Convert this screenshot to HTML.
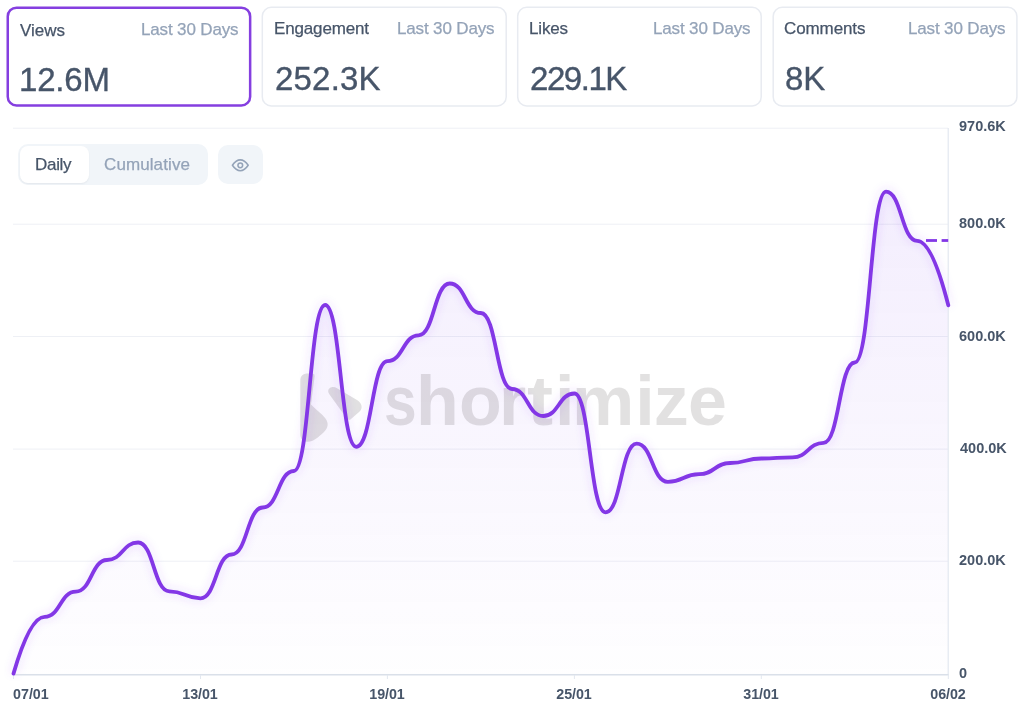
<!DOCTYPE html>
<html><head><meta charset="utf-8"><style>
*{margin:0;padding:0;box-sizing:border-box}
html,body{width:1024px;height:715px;overflow:hidden;background:#fff;font-family:"Liberation Sans",sans-serif;}
.card{position:absolute;top:6.6px;height:100px;border:1px solid #e5e8ef;border-radius:10px;background:#fff}
.card.active{border:2px solid #8033e6;top:6.5px}
.t{position:absolute;white-space:nowrap;will-change:transform}
.toggle{position:absolute;left:18px;top:143.6px;width:190px;height:41.7px;background:#f1f5f9;border-radius:10px}
.daily{position:absolute;left:1.8px;top:2px;width:69.3px;height:37.2px;background:#fff;border-radius:8px;box-shadow:0 1px 2px rgba(15,23,42,.06)}
.eye{position:absolute;left:218.4px;top:144.9px;width:44.7px;height:39.2px;background:#f1f5f9;border-radius:10px}
</style></head><body>

<svg width="1024" height="120" style="position:absolute;left:0;top:0"><rect x="7.75" y="7.65" width="242.4" height="97.8" rx="8.8" fill="#fff" stroke="#853fe0" stroke-width="2.5"/><rect x="262.30" y="7.3" width="243.90" height="98.6" rx="9" fill="#fff" stroke="#e8ebf1" stroke-width="1.5"/><rect x="517.70" y="7.3" width="243.50" height="98.6" rx="9" fill="#fff" stroke="#e8ebf1" stroke-width="1.5"/><rect x="773.20" y="7.3" width="243.70" height="98.6" rx="9" fill="#fff" stroke="#e8ebf1" stroke-width="1.5"/></svg>
<div class="t" id="c1l" style="font-size:17.00px;font-weight:400;color:#475569;line-height:17.00px;letter-spacing:0.00px;top:21.81px;-webkit-text-stroke:0.25px #475569;left:20.40px">Views</div>
<div class="t" id="c1p" style="font-size:17.00px;font-weight:400;color:#94a3b8;line-height:17.00px;letter-spacing:-0.15px;top:21.41px;-webkit-text-stroke:0.25px #94a3b8;right:785.80px">Last 30 Days</div>
<div class="t" id="c1v" style="font-size:33.00px;font-weight:400;color:#475569;line-height:33.00px;letter-spacing:-0.20px;top:62.77px;-webkit-text-stroke:0.35px #475569;left:19.20px">12.6M</div>
<div class="t" id="c2l" style="font-size:17.00px;font-weight:400;color:#475569;line-height:17.00px;letter-spacing:-0.15px;top:19.61px;-webkit-text-stroke:0.25px #475569;left:274.00px">Engagement</div>
<div class="t" id="c2p" style="font-size:17.00px;font-weight:400;color:#94a3b8;line-height:17.00px;letter-spacing:-0.15px;top:19.61px;-webkit-text-stroke:0.25px #94a3b8;right:529.40px">Last 30 Days</div>
<div class="t" id="c2v" style="font-size:33.00px;font-weight:400;color:#475569;line-height:33.00px;letter-spacing:0.20px;top:61.97px;-webkit-text-stroke:0.35px #475569;left:274.80px">252.3K</div>
<div class="t" id="c3l" style="font-size:17.00px;font-weight:400;color:#475569;line-height:17.00px;letter-spacing:-0.15px;top:19.61px;-webkit-text-stroke:0.25px #475569;left:529.40px">Likes</div>
<div class="t" id="c3p" style="font-size:17.00px;font-weight:400;color:#94a3b8;line-height:17.00px;letter-spacing:-0.15px;top:19.61px;-webkit-text-stroke:0.25px #94a3b8;right:274.00px">Last 30 Days</div>
<div class="t" id="c3v" style="font-size:33.00px;font-weight:400;color:#475569;line-height:33.00px;letter-spacing:-1.45px;top:61.67px;-webkit-text-stroke:0.35px #475569;left:530.20px">229.1K</div>
<div class="t" id="c4l" style="font-size:17.00px;font-weight:400;color:#475569;line-height:17.00px;letter-spacing:-0.10px;top:20.01px;-webkit-text-stroke:0.25px #475569;left:784.20px">Comments</div>
<div class="t" id="c4p" style="font-size:17.00px;font-weight:400;color:#94a3b8;line-height:17.00px;letter-spacing:-0.15px;top:19.61px;-webkit-text-stroke:0.25px #94a3b8;right:18.60px">Last 30 Days</div>
<div class="t" id="c4v" style="font-size:33.00px;font-weight:400;color:#475569;line-height:33.00px;letter-spacing:0.00px;top:61.67px;-webkit-text-stroke:0.35px #475569;left:785.00px">8K</div>
<svg width="1024" height="715" style="position:absolute;left:0;top:0">
<defs>
<linearGradient id="fg" x1="0" y1="0" x2="0" y2="1" gradientUnits="objectBoundingBox">
<stop offset="0" stop-color="#7c3aed" stop-opacity="0.09"/>
<stop offset="1" stop-color="#7c3aed" stop-opacity="0.005"/>
</linearGradient>
<filter id="glow" x="-10%" y="-10%" width="120%" height="120%"><feGaussianBlur stdDeviation="4"/></filter>
</defs>
<line x1="13" y1="128.2" x2="948" y2="128.2" stroke="#eef0f5" stroke-width="1"/>
<line x1="13" y1="224.2" x2="948" y2="224.2" stroke="#eef0f5" stroke-width="1"/>
<line x1="13" y1="336.5" x2="948" y2="336.5" stroke="#eef0f5" stroke-width="1"/>
<line x1="13" y1="449.1" x2="948" y2="449.1" stroke="#eef0f5" stroke-width="1"/>
<line x1="13" y1="561.2" x2="948" y2="561.2" stroke="#eef0f5" stroke-width="1"/>
<path d="M13.50,673.60C23.89,637.63 34.27,616.80 44.66,616.80C60.24,616.80 60.24,591.60 75.82,591.60C91.40,591.60 91.40,560.00 106.98,560.00C122.56,560.00 122.56,542.50 138.14,542.50C153.72,542.50 153.72,591.30 169.30,591.30C184.88,591.30 184.88,598.30 200.46,598.30C216.04,598.30 216.04,554.50 231.62,554.50C247.20,554.50 247.20,507.50 262.78,507.50C278.36,507.50 278.36,471.00 293.94,471.00C309.52,471.00 309.52,305.00 325.10,305.00C340.68,305.00 340.68,446.80 356.26,446.80C371.84,446.80 371.84,361.20 387.42,361.20C403.00,361.20 403.00,335.30 418.58,335.30C434.16,335.30 434.16,283.50 449.74,283.50C465.32,283.50 465.32,313.00 480.90,313.00C496.48,313.00 496.48,389.00 512.06,389.00C527.64,389.00 527.64,416.00 543.22,416.00C558.80,416.00 558.80,393.50 574.38,393.50C589.96,393.50 589.96,512.30 605.54,512.30C621.12,512.30 621.12,443.60 636.70,443.60C652.28,443.60 652.28,481.80 667.86,481.80C683.44,481.80 683.44,474.20 699.02,474.20C714.60,474.20 714.60,463.00 730.18,463.00C745.76,463.00 745.76,458.50 761.34,458.50C776.92,458.50 776.92,457.30 792.50,457.30C808.08,457.30 808.08,442.80 823.66,442.80C839.24,442.80 839.24,362.50 854.82,362.50C870.40,362.50 870.40,191.60 885.98,191.60C901.56,191.60 901.56,240.80 917.14,240.80C927.53,240.80 937.91,264.45 948.30,305.30L948.30,673.60L13.50,673.60Z" fill="url(#fg)"/>
</svg>
<svg width="1024" height="715" style="position:absolute;left:0;top:0"><g opacity="0.13" fill="#1e1419">
<path d="M300.3,381 C300.3,375.5 303,373.6 308,373.6 L313,373.8 Q315,374 314.6,376.5 L311,404.5 C316,409.5 322,414 325.5,418.5 C328.8,423 328.5,428 323.5,432.5 C318.5,437 313.5,441.8 308,441.8 C302.5,441.8 300.3,438.5 300.3,434 Z"/>
<path d="M329.5,394.5 C327,391.5 328,387.5 332.5,387 C334,386.8 335.5,387.3 337,388.2 L357,400 C362.5,403.2 363.2,409 358.5,412.5 L351,419 C349.5,420.3 348,420 347,418.8 Z"/>
</g></svg>
<div class="t" style="left:384px;top:360.5px;font-size:70px;font-weight:bold;color:rgba(30,20,25,0.13);line-height:80px;letter-spacing:-0.8px"><span style="display:inline-block;transform:scaleX(0.84);transform-origin:0 0">s</span><span style="position:relative;left:-6.2px">h</span><span style="position:relative;left:-5.2px">o</span><span style="position:relative;left:-7px">r</span><span style="display:inline-block;position:relative;left:-5.4px;transform:scaleX(1.12);transform-origin:0 0">t</span>i<span style="position:relative;left:-1.7px">m</span>ize</div>
<svg width="1024" height="715" style="position:absolute;left:0;top:0">
<path d="M13.50,673.60C23.89,637.63 34.27,616.80 44.66,616.80C60.24,616.80 60.24,591.60 75.82,591.60C91.40,591.60 91.40,560.00 106.98,560.00C122.56,560.00 122.56,542.50 138.14,542.50C153.72,542.50 153.72,591.30 169.30,591.30C184.88,591.30 184.88,598.30 200.46,598.30C216.04,598.30 216.04,554.50 231.62,554.50C247.20,554.50 247.20,507.50 262.78,507.50C278.36,507.50 278.36,471.00 293.94,471.00C309.52,471.00 309.52,305.00 325.10,305.00C340.68,305.00 340.68,446.80 356.26,446.80C371.84,446.80 371.84,361.20 387.42,361.20C403.00,361.20 403.00,335.30 418.58,335.30C434.16,335.30 434.16,283.50 449.74,283.50C465.32,283.50 465.32,313.00 480.90,313.00C496.48,313.00 496.48,389.00 512.06,389.00C527.64,389.00 527.64,416.00 543.22,416.00C558.80,416.00 558.80,393.50 574.38,393.50C589.96,393.50 589.96,512.30 605.54,512.30C621.12,512.30 621.12,443.60 636.70,443.60C652.28,443.60 652.28,481.80 667.86,481.80C683.44,481.80 683.44,474.20 699.02,474.20C714.60,474.20 714.60,463.00 730.18,463.00C745.76,463.00 745.76,458.50 761.34,458.50C776.92,458.50 776.92,457.30 792.50,457.30C808.08,457.30 808.08,442.80 823.66,442.80C839.24,442.80 839.24,362.50 854.82,362.50C870.40,362.50 870.40,191.60 885.98,191.60C901.56,191.60 901.56,240.80 917.14,240.80C927.53,240.80 937.91,264.45 948.30,305.30" fill="none" stroke="#7c3aed" stroke-opacity="0.13" stroke-width="6" filter="url(#glow)"/>
<line x1="948.2" y1="128" x2="948.2" y2="674" stroke="#e3e8f0" stroke-width="1.2"/>
<line x1="13" y1="674.8" x2="948.8" y2="674.8" stroke="#dae0e9" stroke-width="1.5"/>
<line x1="13.5" y1="675" x2="13.5" y2="679" stroke="#e3e8f0" stroke-width="1"/>
<line x1="200.5" y1="675" x2="200.5" y2="679" stroke="#e3e8f0" stroke-width="1"/>
<line x1="387.4" y1="675" x2="387.4" y2="679" stroke="#e3e8f0" stroke-width="1"/>
<line x1="574.4" y1="675" x2="574.4" y2="679" stroke="#e3e8f0" stroke-width="1"/>
<line x1="761.3" y1="675" x2="761.3" y2="679" stroke="#e3e8f0" stroke-width="1"/>
<line x1="948.3" y1="675" x2="948.3" y2="679" stroke="#e3e8f0" stroke-width="1"/>
<path d="M13.50,673.60C23.89,637.63 34.27,616.80 44.66,616.80C60.24,616.80 60.24,591.60 75.82,591.60C91.40,591.60 91.40,560.00 106.98,560.00C122.56,560.00 122.56,542.50 138.14,542.50C153.72,542.50 153.72,591.30 169.30,591.30C184.88,591.30 184.88,598.30 200.46,598.30C216.04,598.30 216.04,554.50 231.62,554.50C247.20,554.50 247.20,507.50 262.78,507.50C278.36,507.50 278.36,471.00 293.94,471.00C309.52,471.00 309.52,305.00 325.10,305.00C340.68,305.00 340.68,446.80 356.26,446.80C371.84,446.80 371.84,361.20 387.42,361.20C403.00,361.20 403.00,335.30 418.58,335.30C434.16,335.30 434.16,283.50 449.74,283.50C465.32,283.50 465.32,313.00 480.90,313.00C496.48,313.00 496.48,389.00 512.06,389.00C527.64,389.00 527.64,416.00 543.22,416.00C558.80,416.00 558.80,393.50 574.38,393.50C589.96,393.50 589.96,512.30 605.54,512.30C621.12,512.30 621.12,443.60 636.70,443.60C652.28,443.60 652.28,481.80 667.86,481.80C683.44,481.80 683.44,474.20 699.02,474.20C714.60,474.20 714.60,463.00 730.18,463.00C745.76,463.00 745.76,458.50 761.34,458.50C776.92,458.50 776.92,457.30 792.50,457.30C808.08,457.30 808.08,442.80 823.66,442.80C839.24,442.80 839.24,362.50 854.82,362.50C870.40,362.50 870.40,191.60 885.98,191.60C901.56,191.60 901.56,240.80 917.14,240.80C927.53,240.80 937.91,264.45 948.30,305.30" fill="none" stroke="#8337e6" stroke-width="3.8" stroke-linecap="round" stroke-linejoin="round"/>
<line x1="926" y1="240.5" x2="937" y2="240.5" stroke="#8337e6" stroke-width="2.8"/>
<line x1="941.6" y1="240.5" x2="948.2" y2="240.5" stroke="#8337e6" stroke-width="2.8"/>
</svg>
<div class="t" id="y970.6K" style="font-size:14.50px;font-weight:700;color:#475569;line-height:14.50px;letter-spacing:0.00px;top:119.43px;left:959.40px">970.6K</div>
<div class="t" id="y800.0K" style="font-size:14.50px;font-weight:700;color:#475569;line-height:14.50px;letter-spacing:0.00px;top:216.43px;left:959.40px">800.0K</div>
<div class="t" id="y600.0K" style="font-size:14.50px;font-weight:700;color:#475569;line-height:14.50px;letter-spacing:0.00px;top:328.63px;left:959.40px">600.0K</div>
<div class="t" id="y400.0K" style="font-size:14.50px;font-weight:700;color:#475569;line-height:14.50px;letter-spacing:0.00px;top:441.23px;left:960.40px">400.0K</div>
<div class="t" id="y200.0K" style="font-size:14.50px;font-weight:700;color:#475569;line-height:14.50px;letter-spacing:0.00px;top:553.33px;left:959.40px">200.0K</div>
<div class="t" id="y0" style="font-size:14.50px;font-weight:700;color:#475569;line-height:14.50px;letter-spacing:0.00px;top:665.73px;left:959.40px">0</div>
<div class="t" id="x07/01" style="font-size:14.30px;font-weight:700;color:#475569;line-height:14.30px;letter-spacing:0.00px;top:686.60px;left:13.40px">07/01</div>
<div class="t" id="x13/01" style="font-size:14.30px;font-weight:700;color:#475569;line-height:14.30px;letter-spacing:-0.10px;top:686.60px;left:199.86px;width:0;display:flex;justify-content:center">13/01</div>
<div class="t" id="x19/01" style="font-size:14.30px;font-weight:700;color:#475569;line-height:14.30px;letter-spacing:-0.10px;top:686.60px;left:386.82px;width:0;display:flex;justify-content:center">19/01</div>
<div class="t" id="x25/01" style="font-size:14.30px;font-weight:700;color:#475569;line-height:14.30px;letter-spacing:-0.10px;top:686.60px;left:574.28px;width:0;display:flex;justify-content:center">25/01</div>
<div class="t" id="x31/01" style="font-size:14.30px;font-weight:700;color:#475569;line-height:14.30px;letter-spacing:-0.10px;top:686.60px;left:761.24px;width:0;display:flex;justify-content:center">31/01</div>
<div class="t" id="x06/02" style="font-size:14.30px;font-weight:700;color:#475569;line-height:14.30px;letter-spacing:-0.10px;top:686.60px;left:948.20px;width:0;display:flex;justify-content:center">06/02</div>
<div class="toggle"><div class="daily"></div></div>
<div class="t" id="tdaily" style="font-size:17.00px;font-weight:400;color:#475569;line-height:17.00px;letter-spacing:-0.30px;top:155.51px;-webkit-text-stroke:0.25px #475569;left:34.80px">Daily</div>
<div class="t" id="tcum" style="font-size:17.00px;font-weight:400;color:#94a3b8;line-height:17.00px;letter-spacing:0.10px;top:155.51px;-webkit-text-stroke:0.25px #94a3b8;left:103.80px">Cumulative</div>
<div class="eye"><svg width="20.6" height="20.6" viewBox="0 0 24 24" style="position:absolute;left:11.8px;top:9.9px" fill="none" stroke="#94a3b8" stroke-width="1.8" stroke-linecap="round" stroke-linejoin="round">
<path d="M2.8 12 C5.5 8 8.5 5.7 12 5.7 C15.5 5.7 18.5 8 21.2 12 C18.5 16 15.5 18.3 12 18.3 C8.5 18.3 5.5 16 2.8 12Z"/>
<circle cx="12" cy="12" r="2.75"/></svg></div>
</body></html>
